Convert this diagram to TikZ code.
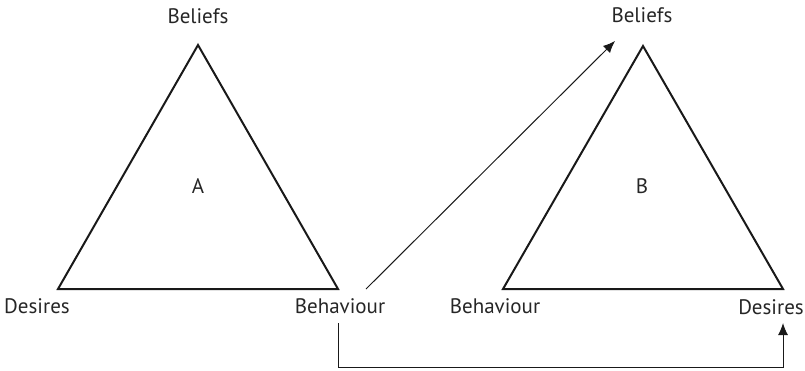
\documentclass[tikz,border=0pt]{standalone}
\usepackage{fontspec}
\setmainfont{PT Sans}
\usetikzlibrary{arrows.meta}
\begin{document}
\begin{tikzpicture}[x=1pt,y=-1pt,
  lbl/.style={font=\fontsize{21}{24}\selectfont, inner sep=0pt, text=black!85},
  tri/.style={draw=black!90, line width=2pt, line join=miter},
  conn/.style={draw=black!90, line width=1pt, -{Latex[length=12pt,width=10pt]}}]
\useasboundingbox (0,0) rectangle (805,370);
% triangle A
\coordinate (a1) at (198,45);
\coordinate (a2) at (58,289);
\coordinate (a3) at (338,289);
\draw[tri] (a1) -- (a2) -- (a3) -- cycle;
% triangle B
\coordinate (b1) at (643,46);
\coordinate (b2) at (503,289);
\coordinate (b3) at (783,289);
\draw[tri] (b1) -- (b2) -- (b3) -- cycle;
% labels
\node[lbl] (belA) at (198,16) {Beliefs};
\node[lbl] (desA) at (37,306) {Desires};
\node[lbl] (behA) at (340,306) {Behaviour};
\node[lbl] (A) at (198,186) {A};
\node[lbl] (belB) at (642,15) {Beliefs};
\node[lbl] (behB) at (495,306) {Behaviour};
\node[lbl] (desB) at (771,307) {Desires};
\node[lbl] (B) at (642,186) {B};
% connectors
\coordinate (s1) at (366,289);
\coordinate (e1) at (615,41);
\draw[conn] (s1) -- (e1);
\coordinate (s2) at (338,323);
\coordinate (e2) at (783,323);
\draw[conn] (s2) -- (338,367) -- (783,367) -- (e2);
\end{tikzpicture}
\end{document}
